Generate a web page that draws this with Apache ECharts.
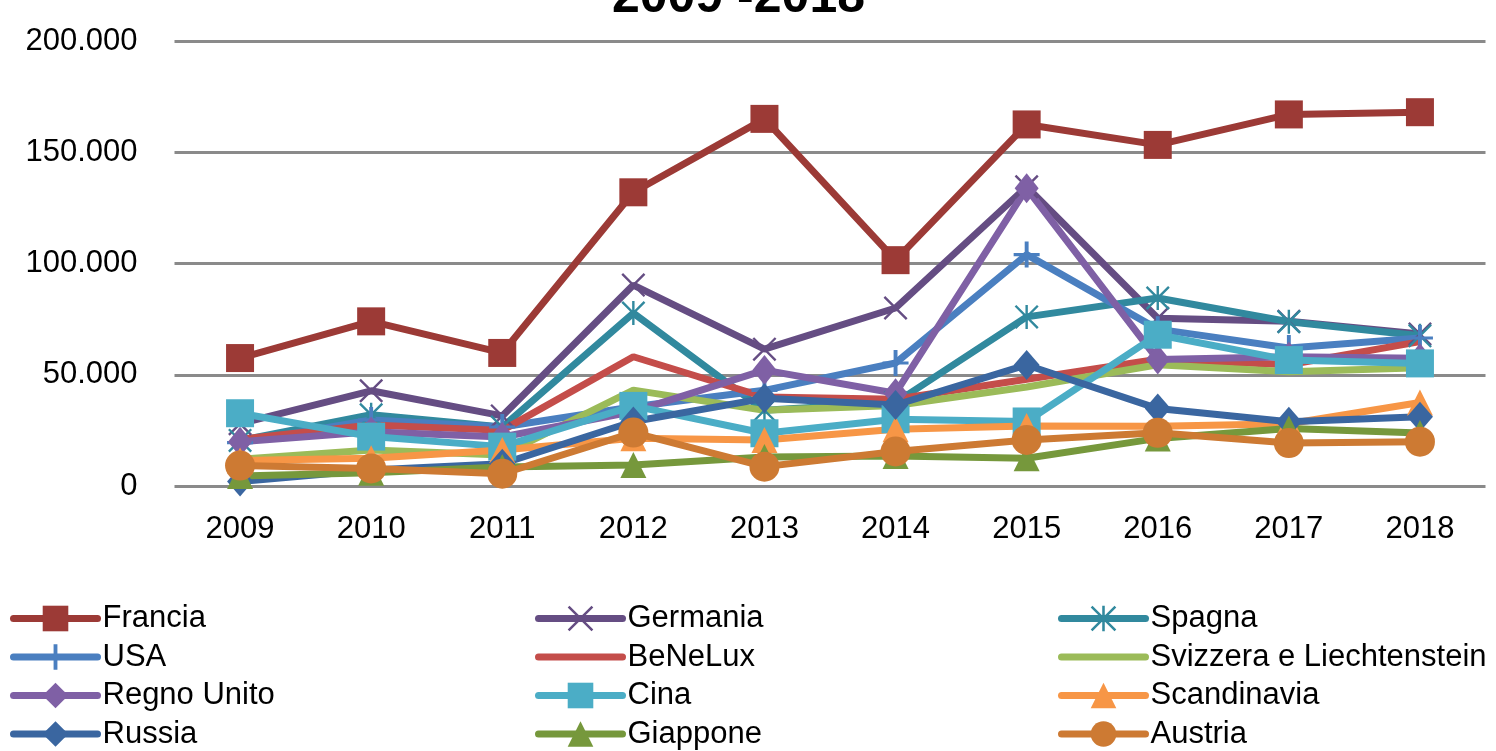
<!DOCTYPE html>
<html>
<head>
<meta charset="utf-8">
<script src="https://cdn.jsdelivr.net/npm/echarts@6/dist/echarts.min.js"></script>
<style>
  html, body { margin: 0; padding: 0; background: #fff; }
  #chart { width: 1496px; height: 751px; }
</style>
</head>
<body>
<div id="chart"></div>
<script>
// anni
var years = ['2009', '2010', '2011', '2012', '2013', '2014', '2015', '2016', '2017', '2018'];

// valori
var francia     = [57500, 74000, 59800, 132000, 165000, 101500, 162500, 153300, 167000, 168000];
var germania    = [28000, 42800, 31500, 90300, 61500, 80000, 134500, 75400, 74000, 68300];
var spagna      = [20500, 32000, 26500, 77700, 34000, 37500, 76000, 84500, 73800, 67500];
var usa         = [19500, 29700, 26500, 35600, 43000, 55300, 104000, 70500, 62000, 66500];
var benelux     = [21000, 27400, 25000, 58100, 40000, 39000, 48000, 57000, 54500, 64900];
var svizzera    = [12000, 16200, 13900, 43100, 34000, 36200, 44500, 54500, 51300, 53200];
var regnoUnito  = [19900, 24400, 22000, 33400, 52100, 41700, 133800, 56800, 58100, 57400];
var cina        = [32700, 22200, 17700, 36000, 23700, 30000, 29000, 68000, 56600, 55100];
var scandinavia = [11500, 12500, 16200, 21500, 20700, 25500, 27000, 26800, 28000, 37500];
var russia      = [2000, 7200, 10000, 29000, 39400, 36400, 54400, 34800, 28900, 31100];
var giappone    = [4500, 6000, 8500, 9400, 13000, 13500, 12500, 21400, 25800, 23800];
var austria     = [9200, 7900, 5500, 24000, 8700, 15500, 20700, 23900, 19300, 19900];

var yTicks = [0, 50000, 100000, 150000, 200000];

// simboli disegnati a mano
var symX = 'path://M0,7L7,0L100,93L93,100Z M93,0L100,7L7,100L0,93Z';
var symStar = 'path://M0,7L7,0L100,93L93,100Z M93,0L100,7L7,100L0,93Z M45,0L55,0L55,100L45,100Z';
var symPlus = 'path://M44,0L56,0L56,100L44,100Z M10,44L90,44L90,56L10,56Z';

var font = "'Liberation Sans', Arial, sans-serif";

function fmt(v) {
    return String(v).replace(/\B(?=(\d{3})+(?!\d))/g, '.');
}

function serie(name, data, color, symbol, size) {
    return {
        name: name,
        type: 'line',
        data: data,
        symbol: symbol,
        symbolSize: size,
        showSymbol: symbol !== 'none',
        lineStyle: { color: color, width: 7 },
        itemStyle: { color: color, borderColor: color, borderWidth: 0, opacity: 1 },
        emphasis: { disabled: true },
        animation: false
    };
}

var myChart = echarts.init(document.getElementById('chart'));

var legendBase = {
    orient: 'vertical',
    top: 603,
    padding: 0,
    itemWidth: 84,
    itemHeight: 32,
    itemGap: 7.5,
    lineStyle: { width: 7, cap: 'round' },
    textStyle: { fontFamily: font, fontSize: 31, color: '#000' }
};

// voci senza marcatore
function noMark(name) {
    return { name: name, itemStyle: { opacity: 0 } };
}

var chartOption = {
    backgroundColor: '#fff',
    title: {
        text: '2009 -2018',
        left: 607,
        top: -32,
        textStyle: { fontFamily: font, fontSize: 50, fontWeight: 'bold', color: '#000', lineHeight: 50 }
    },
    legend: [
        Object.assign({}, legendBase, { left: 10, data: ['Francia', 'USA', 'Regno Unito', 'Russia'] }),
        Object.assign({}, legendBase, { left: 535, data: ['Germania', noMark('BeNeLux'), 'Cina', 'Giappone'] }),
        Object.assign({}, legendBase, { left: 1058, data: ['Spagna', noMark('Svizzera e Liechtenstein'), 'Scandinavia', 'Austria'] })
    ],
    grid: { left: 174.5, right: 10.5, top: 41, bottom: 265 },
    xAxis: {
        type: 'category',
        data: years,
        boundaryGap: true,
        axisLine: { show: false },
        axisTick: { show: false },
        axisLabel: { fontFamily: font, fontSize: 31, color: '#000', margin: 28 }
    },
    yAxis: {
        type: 'value',
        min: yTicks[0],
        max: yTicks[yTicks.length - 1],
        interval: yTicks[1] - yTicks[0],
        axisLine: { show: false },
        axisTick: { show: false },
        splitLine: { lineStyle: { color: '#8a8a8a', width: 3 } },
        axisLabel: { fontFamily: font, fontSize: 31, color: '#000', margin: 37, formatter: fmt }
    },
    series: [
        serie('Francia', francia, '#9c3a36', 'rect', 28),
        serie('Germania', germania, '#654d83', symX, 24),
        serie('Spagna', spagna, '#31899e', symStar, 24),
        serie('USA', usa, '#4a7fc0', symPlus, 26),
        serie('BeNeLux', benelux, '#c44d4a', 'none', 0),
        serie('Svizzera e Liechtenstein', svizzera, '#9bbb59', 'none', 0),
        serie('Regno Unito', regnoUnito, '#7f60a5', 'diamond', [24, 30]),
        serie('Cina', cina, '#4badc6', 'rect', 28),
        serie('Scandinavia', scandinavia, '#f79646', 'triangle', 26),
        serie('Russia', russia, '#3a66a0', 'diamond', [26, 30]),
        serie('Giappone', giappone, '#76983c', 'triangle', 26),
        serie('Austria', austria, '#cd7a33', 'circle', 30)
    ]
};
myChart.setOption(chartOption);
</script>
</body>
</html>
